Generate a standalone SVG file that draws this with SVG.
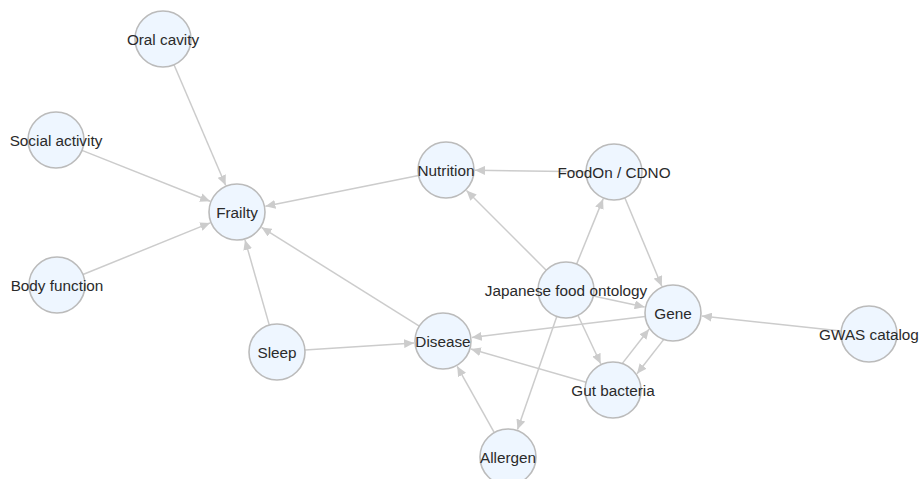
<svg xmlns="http://www.w3.org/2000/svg" width="920" height="479" viewBox="0 0 920 479">
<style>
.edge{stroke:#cccccc;stroke-width:1.5;fill:none;marker-end:url(#arr)}
.node circle{fill:#eef6ff;stroke:#bbbbbb;stroke-width:1.6}
.node text{font-family:"Liberation Sans",Arial,sans-serif;font-size:15.3px;fill:#2a2a2a;text-anchor:middle;dominant-baseline:central}
</style>
<defs>
<marker id="arr" markerUnits="userSpaceOnUse" markerWidth="11" markerHeight="9" refX="10" refY="4.5" orient="auto">
<path d="M0,0 L10,4.5 L0,9 Z" fill="#cccccc"/>
</marker>
</defs>
<rect width="920" height="479" fill="#ffffff"/>
<g id="connectors">
<line class="edge" x1="174.0" y1="64.7" x2="225.6" y2="185.3"/>
<line class="edge" x1="82.0" y1="150.4" x2="210.1" y2="201.3"/>
<line class="edge" x1="83.0" y1="274.5" x2="210.1" y2="222.9"/>
<line class="edge" x1="418.6" y1="175.5" x2="265.4" y2="206.3"/>
<line class="edge" x1="419.3" y1="326.1" x2="261.6" y2="227.4"/>
<line class="edge" x1="269.3" y1="325.1" x2="245.0" y2="239.9"/>
<line class="edge" x1="304.9" y1="350.1" x2="414.1" y2="342.9"/>
<line class="edge" x1="586" y1="171.7" x2="475" y2="170.3"/>
<line class="edge" x1="546.2" y1="270.2" x2="466.5" y2="190.5"/>
<line class="edge" x1="576.6" y1="264.1" x2="603.1" y2="198.9"/>
<line class="edge" x1="624.8" y1="197.8" x2="661.8" y2="286.2"/>
<line class="edge" x1="593.4" y1="295.9" x2="644.6" y2="306.9"/>
<line class="edge" x1="577.9" y1="315.3" x2="600.7" y2="363.8"/>
<line class="edge" x1="556.8" y1="316.5" x2="517.5" y2="429.6"/>
<line class="edge" x1="645.2" y1="316.4" x2="471.8" y2="337.5"/>
<line class="edge" x1="663.8" y1="339.4" x2="637.0" y2="373.8"/>
<line class="edge" x1="622.2" y1="363.6" x2="649.0" y2="329.2"/>
<line class="edge" x1="586.1" y1="382.2" x2="470.9" y2="349.0"/>
<line class="edge" x1="494.3" y1="432.6" x2="457.2" y2="366.3"/>
<line class="edge" x1="841.2" y1="331.0" x2="701.8" y2="316.1"/>
</g>
<g id="oral-cavity" class="node"><circle cx="163" cy="39" r="28"/><text x="163" y="39">Oral cavity</text></g>
<g id="social-activity" class="node"><circle cx="56" cy="140" r="28"/><text x="56" y="140">Social activity</text></g>
<g id="frailty" class="node"><circle cx="237" cy="212" r="28"/><text x="237" y="212">Frailty</text></g>
<g id="body-function" class="node"><circle cx="57" cy="285" r="28"/><text x="57" y="285">Body function</text></g>
<g id="nutrition" class="node"><circle cx="446" cy="170" r="28"/><text x="446" y="170">Nutrition</text></g>
<g id="foodon-cdno" class="node"><circle cx="614" cy="172" r="28"/><text x="614" y="172">FoodOn / CDNO</text></g>
<g id="japanese-food-ontology" class="node"><circle cx="566" cy="290" r="28"/><text x="566" y="290">Japanese food ontology</text></g>
<g id="gene" class="node"><circle cx="673" cy="313" r="28"/><text x="673" y="313">Gene</text></g>
<g id="gwas-catalog" class="node"><circle cx="869" cy="334" r="28"/><text x="869" y="334">GWAS catalog</text></g>
<g id="sleep" class="node"><circle cx="277" cy="352" r="28"/><text x="277" y="352">Sleep</text></g>
<g id="disease" class="node"><circle cx="443" cy="341" r="28"/><text x="443" y="341">Disease</text></g>
<g id="gut-bacteria" class="node"><circle cx="613" cy="390" r="28"/><text x="613" y="390">Gut bacteria</text></g>
<g id="allergen" class="node"><circle cx="508" cy="457" r="28"/><text x="508" y="457">Allergen</text></g>
</svg>
